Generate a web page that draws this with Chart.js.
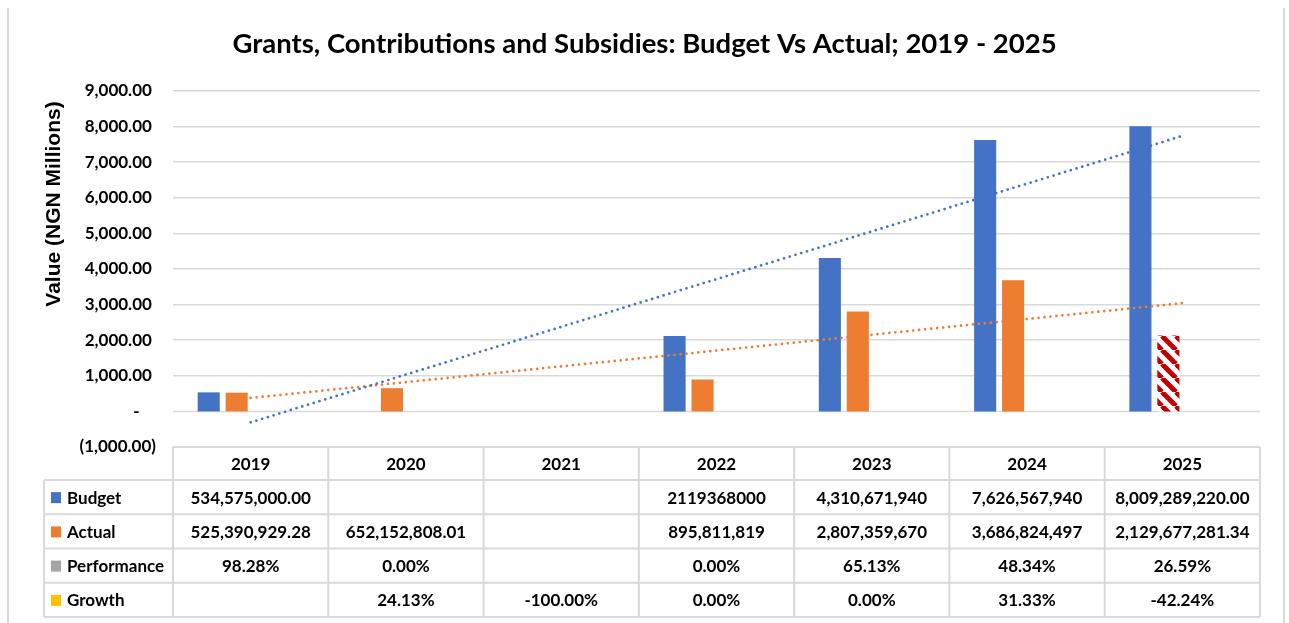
<!DOCTYPE html>
<html>
<head>
<meta charset="utf-8">
<title>Grants, Contributions and Subsidies</title>
<script src="https://cdn.jsdelivr.net/npm/chart.js@4.4.1/dist/chart.umd.min.js"></script>
<style>
    html, body { margin: 0; padding: 0; background: #fff; }
    #wrap { position: relative; width: 1289px; height: 623px; overflow: hidden; }
    #frame { position: absolute; left: 7px; top: 8px; width: 1274px; height: 640px;
             border-left: 2px solid #d9d9d9; border-right: 2px solid #d9d9d9; }
    #grantsChart { position: absolute; left: 0; top: 0; }
</style>
</head>
<body>
<div id="wrap">
    <div id="frame"></div>
    <canvas id="grantsChart" width="1289" height="623"></canvas>
</div>
<script>
// Table cells exactly as shown in the data table (NGN); bars are drawn in millions
const years = ['2019', '2020', '2021', '2022', '2023', '2024', '2025'];
const budgetCells = ['534,575,000.00', '', '', '2119368000', '4,310,671,940', '7,626,567,940', '8,009,289,220.00'];
const actualCells = ['525,390,929.28', '652,152,808.01', '', '895,811,819', '2,807,359,670', '3,686,824,497', '2,129,677,281.34'];
const performanceCells = ['98.28%', '0.00%', '', '0.00%', '65.13%', '48.34%', '26.59%'];
const growthCells = ['', '24.13%', '-100.00%', '0.00%', '0.00%', '31.33%', '-42.24%'];
const hatchedYear = '2025';

const BLUE = '#4472C4';
const ORANGE = '#ED7D31';
const GREY = '#A5A5A5';
const GOLD = '#FFC000';
const HATCH_RED = '#C00000';
const GRID = '#d9d9d9';

function toMillions(text) {
    if (!text) return null;
    return parseFloat(text.replace(/,/g, '')) / 1e6;
}

function toFraction(text) {
    if (!text) return null;
    return parseFloat(text) / 100;
}

const budget = budgetCells.map(toMillions);
const actual = actualCells.map(toMillions);
const performance = performanceCells.map(toFraction);
const growth = growthCells.map(toFraction);

// least squares linear trend over the non-empty points, x = 1..n
function linearTrend(values) {
    const pts = [];
    values.forEach((v, i) => { if (v !== null) pts.push([i + 1, v]); });
    const n = pts.length;
    const mx = pts.reduce((s, p) => s + p[0], 0) / n;
    const my = pts.reduce((s, p) => s + p[1], 0) / n;
    let sxy = 0, sxx = 0;
    pts.forEach(p => { sxy += (p[0] - mx) * (p[1] - my); sxx += (p[0] - mx) * (p[0] - mx); });
    const slope = sxy / sxx;
    return values.map((_, i) => my + slope * (i + 1 - mx));
}

function makeHatch() {
    const size = 14;
    const tile = document.createElement('canvas');
    tile.width = size;
    tile.height = size;
    const g = tile.getContext('2d');
    g.fillStyle = '#fff';
    g.fillRect(0, 0, size, size);
    g.strokeStyle = HATCH_RED;
    g.lineWidth = 5;
    [-size, 0, size].forEach(off => {
        g.beginPath();
        g.moveTo(off, 0);
        g.lineTo(off + size, size);
        g.stroke();
    });
    return g.createPattern(tile, 'repeat');
}

function formatTick(value) {
    if (value === 0) return '-    ';
    const s = Math.abs(value).toLocaleString('en-US', { minimumFractionDigits: 2, maximumFractionDigits: 2 });
    return value < 0 ? '(' + s + ')' : s + ' ';
}

// Zero line is drawn here instead of by the grid, so bars are not lifted by half a grid width
const zeroLine = {
    id: 'zeroLine',
    beforeDatasetsDraw(chart) {
        const { ctx, chartArea, scales } = chart;
        const y0 = scales.y.getPixelForValue(0);
        ctx.save();
        ctx.strokeStyle = GRID;
        ctx.lineWidth = 1.5;
        ctx.beginPath();
        ctx.moveTo(chartArea.left, y0);
        ctx.lineTo(chartArea.right, y0);
        ctx.stroke();
        ctx.restore();
    }
};

// Data table under the plot, columns follow the category scale
const dataTable = {
    id: 'dataTable',
    afterDraw(chart) {
        const { ctx, chartArea, scales } = chart;
        const x = scales.x;
        const left = chartArea.left, right = chartArea.right;
        const colW = (right - left) / years.length;
        const top = chartArea.bottom;
        const headH = 33, rowH = 34.25;
        const labelLeft = 44;
        const rows = [
            { name: 'Budget', color: BLUE, cells: budgetCells },
            { name: 'Actual', color: ORANGE, cells: actualCells },
            { name: 'Performance', color: GREY, cells: performanceCells },
            { name: 'Growth', color: GOLD, cells: growthCells }
        ];
        const bottom = top + headH + rowH * rows.length;

        ctx.save();
        ctx.strokeStyle = GRID;
        ctx.lineWidth = 2;
        ctx.beginPath();
        ctx.moveTo(left, top); ctx.lineTo(right, top);
        for (let i = 0; i < rows.length + 1; i++) {
            const y = top + headH + rowH * i;
            ctx.moveTo(labelLeft, y); ctx.lineTo(right, y);
        }
        ctx.moveTo(labelLeft, top + headH); ctx.lineTo(labelLeft, bottom);
        for (let i = 0; i <= years.length; i++) {
            const xx = left + colW * i;
            ctx.moveTo(xx, top); ctx.lineTo(xx, bottom);
        }
        ctx.stroke();

        ctx.fillStyle = '#000';
        ctx.font = 'bold 17px Lato';
        ctx.textAlign = 'center';
        ctx.textBaseline = 'middle';
        years.forEach((yr, i) => ctx.fillText(yr, x.getPixelForValue(i), top + headH / 2 + 1));

        rows.forEach((row, r) => {
            const cy = top + headH + rowH * r + rowH / 2 + 1;
            ctx.fillStyle = row.color;
            ctx.fillRect(labelLeft + 7, cy - 6, 10, 11);
            ctx.fillStyle = '#000';
            ctx.textAlign = 'left';
            ctx.fillText(row.name, labelLeft + 23, cy);
            ctx.textAlign = 'center';
            row.cells.forEach((cell, i) => {
                if (cell) ctx.fillText(cell, x.getPixelForValue(i), cy);
            });
        });
        ctx.restore();
    }
};

// Rotated axis caption beside the value ticks
const axisCaption = {
    id: 'axisCaption',
    afterDraw(chart) {
        const { ctx } = chart;
        ctx.save();
        ctx.translate(54, 204);
        ctx.rotate(-Math.PI / 2);
        ctx.fillStyle = '#000';
        ctx.font = 'bold 21px "Liberation Sans"';
        ctx.textAlign = 'center';
        ctx.textBaseline = 'middle';
        ctx.fillText('Value (NGN Millions)', 0, 0);
        ctx.restore();
    }
};

document.addEventListener('DOMContentLoaded', function() {
    const canvas = document.getElementById('grantsChart');
    const hatch = makeHatch();
    const barCommon = { categoryPercentage: 0.72, barPercentage: 0.79, inflateAmount: 0, order: 2 };

    new Chart(canvas.getContext('2d'), {
        type: 'bar',
        data: {
            labels: years,
            datasets: [
                Object.assign({ label: 'Budget', data: budget, backgroundColor: BLUE }, barCommon),
                Object.assign({
                    label: 'Actual',
                    data: actual,
                    backgroundColor: years.map(y => y === hatchedYear ? hatch : ORANGE)
                }, barCommon),
                Object.assign({ label: 'Performance', data: performance, backgroundColor: GREY }, barCommon),
                Object.assign({ label: 'Growth', data: growth, backgroundColor: GOLD }, barCommon),
                {
                    type: 'line',
                    label: 'Linear (Budget)',
                    data: linearTrend(budget),
                    borderColor: BLUE,
                    borderWidth: 2.75,
                    borderDash: [0, 6],
                    borderCapStyle: 'round',
                    pointRadius: 0,
                    fill: false,
                    order: 1
                },
                {
                    type: 'line',
                    label: 'Linear (Actual)',
                    data: linearTrend(actual),
                    borderColor: ORANGE,
                    borderWidth: 2.75,
                    borderDash: [0, 6],
                    borderCapStyle: 'round',
                    pointRadius: 0,
                    fill: false,
                    order: 1
                }
            ]
        },
        options: {
            responsive: false,
            animation: false,
            layout: { padding: { left: 0, right: 0, top: 0, bottom: 176 } },
            plugins: {
                legend: { display: false },
                tooltip: { enabled: false },
                title: {
                    display: true,
                    text: 'Grants, Contributions and Subsidies: Budget Vs Actual; 2019 - 2025',
                    color: '#000',
                    font: { family: 'Lato', size: 27.5, weight: 'bold' },
                    padding: { top: 28, bottom: 30 }
                }
            },
            scales: {
                x: { display: false },
                y: {
                    min: -1000,
                    max: 9000,
                    afterFit(scale) { scale.width = 173; },
                    ticks: {
                        stepSize: 1000,
                        padding: 17,
                        color: '#000',
                        font: { family: 'Lato', size: 17, weight: 'bold' },
                        callback: formatTick
                    },
                    grid: {
                        color: GRID,
                        lineWidth: ctx => (ctx.tick && ctx.tick.value === 0 ? 0 : 1.5),
                        drawTicks: false
                    },
                    border: { display: false }
                },
                // empty right-hand gutter
                yGutter: {
                    position: 'right',
                    afterFit(scale) { scale.width = 29; },
                    ticks: { display: false },
                    grid: { display: false },
                    border: { display: false }
                }
            }
        },
        plugins: [zeroLine, dataTable, axisCaption]
    });
});
</script>
</body>
</html>
